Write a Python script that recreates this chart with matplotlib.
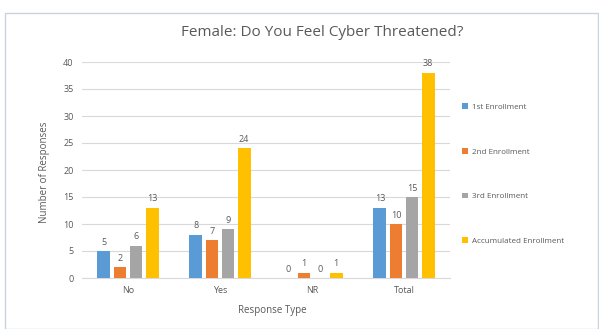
import matplotlib
matplotlib.use("Agg")
import matplotlib.pyplot as plt
from matplotlib.patches import Rectangle
import numpy as np

categories = ["No", "Yes", "NR", "Total"]
series_names = ["1st Enrollment", "2nd Enrollment", "3rd Enrollment", "Accumulated Enrollment"]
first = [5, 8, 0, 13]
second = [2, 7, 1, 10]
third = [6, 9, 0, 15]
accumulated = [13, 24, 1, 38]
yticks = [0, 5, 10, 15, 20, 25, 30, 35, 40]

colors = ["#5B9BD5", "#ED7D31", "#A5A5A5", "#FFC000"]
text_color = "#595959"
plt.rcParams["font.family"] = ["Open Sans", "DejaVu Sans"]

fig = plt.figure(figsize=(5.99, 3.29), dpi=100)
fig.patches.append(Rectangle((5 / 599, 0), 593 / 599, 1 - 13 / 329,
                             transform=fig.transFigure, fill=False,
                             edgecolor="#C9D3DE", linewidth=1.0))

ax = fig.add_axes([82 / 599, 1 - 278 / 329, 368 / 599, (278 - 62) / 329])
x = np.arange(len(categories))
step = 0.175
width = 0.14
for i, (vals, name, c) in enumerate(zip([first, second, third, accumulated], series_names, colors)):
    pos = x + (i - 1.5) * step
    bars = ax.bar(pos, vals, width=width, color=c, label=name, zorder=3)
    for b, v in zip(bars, vals):
        ax.text(b.get_x() + b.get_width() / 2, v + 0.8, str(v), ha="center", va="bottom",
                fontsize=6.5, color=text_color)

ax.set_xlim(-0.5, 3.5)
ax.set_ylim(0, 40)
ax.set_yticks(yticks)
ax.set_xticks(x)
ax.set_xticklabels(categories)
ax.tick_params(axis="both", length=0, labelsize=6.5, colors=text_color, pad=6)
ax.grid(axis="y", color="#D9D9D9", linewidth=0.8, zorder=0)
for s in ["top", "right", "left"]:
    ax.spines[s].set_visible(False)
ax.spines["bottom"].set_color("#D9D9D9")

fig.text(322 / 599, 1 - 33 / 329, "Female: Do You Feel Cyber Threatened?", ha="center",
         va="center", fontsize=11, color=text_color)
fig.text(45 / 599, 1 - 172 / 329, "Number of Responses", rotation=90, ha="center",
         va="center", fontsize=7, color=text_color)
fig.text(272 / 599, 1 - 311 / 329, "Response Type", ha="center", va="center",
         fontsize=7, color=text_color)

handles, labels = ax.get_legend_handles_labels()
leg = fig.legend(handles, labels, loc="upper left", bbox_to_anchor=(455 / 599, 1 - 96 / 329),
                 frameon=False, fontsize=5.8, labelspacing=4.6, handlelength=0.7,
                 handleheight=0.7, handletextpad=0.5, labelcolor=text_color)

fig.savefig("out.png", dpi=100)
